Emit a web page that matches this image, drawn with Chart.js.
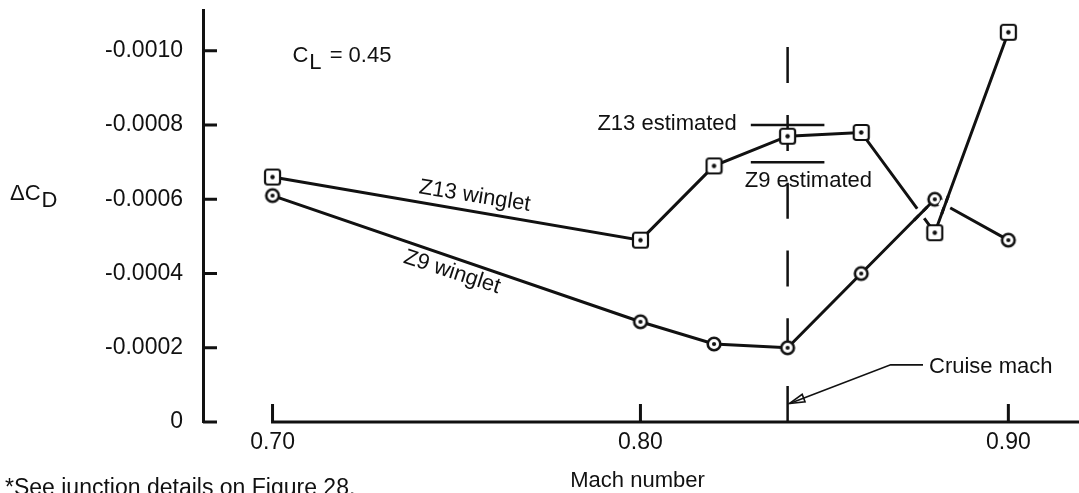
<!DOCTYPE html>
<html>
<head>
<meta charset="utf-8">
<title>Winglet drag increment</title>
<script src="https://cdn.jsdelivr.net/npm/chart.js@4.4.1/dist/chart.umd.min.js"></script>
<style>
    html, body { margin: 0; padding: 0; background: #fff; }
</style>
</head>
<body>
<canvas id="grafico" width="1079" height="493"></canvas>
<script>
// Drag increment for the two winglets at CL = 0.45
const machZ13 = [0.70, 0.80, 0.82, 0.84, 0.86, 0.88, 0.90];
const dcdZ13 = [-0.00066, -0.00049, -0.00069, -0.00077, -0.00078, -0.00051, -0.00105];
const machZ9 = [0.70, 0.80, 0.82, 0.84, 0.86, 0.88, 0.90];
const dcdZ9 = [-0.00061, -0.00027, -0.00021, -0.00020, -0.00040, -0.00060, -0.00049];

// Estimates at cruise
const cruiseMach = 0.84;
const cruiseLineTop = -0.00101;
const z13Estimated = -0.0008;
const z9Estimated = -0.0007;
const estimateSpan = [0.83, 0.85];

const xTicks = [0.70, 0.80, 0.90];
const yTicks = [0, -0.0002, -0.0004, -0.0006, -0.0008, -0.0010];

const INK = '#111';
const FONT = '"Liberation Sans", Arial, sans-serif';

// Marker images: square and circle with a dot in the middle
function squareMarker() {
    let c = document.createElement('canvas');
    c.width = 19; c.height = 19;
    let g = c.getContext('2d');
    g.fillStyle = '#fff';
    g.strokeStyle = INK;
    g.lineWidth = 2.2;
    g.beginPath();
    if (g.roundRect) g.roundRect(2, 2, 15, 15, 2.5); else g.rect(2, 2, 15, 15);
    g.fill();
    g.stroke();
    g.fillStyle = INK;
    g.beginPath();
    g.arc(9.5, 9.5, 2.2, 0, Math.PI * 2);
    g.fill();
    return c;
}

function circleMarker() {
    let c = document.createElement('canvas');
    c.width = 18; c.height = 18;
    let g = c.getContext('2d');
    g.fillStyle = '#fff';
    g.strokeStyle = INK;
    g.lineWidth = 2.6;
    g.beginPath();
    g.arc(9, 9, 6.3, 0, Math.PI * 2);
    g.fill();
    g.stroke();
    g.fillStyle = INK;
    g.beginPath();
    g.arc(9, 9, 2.1, 0, Math.PI * 2);
    g.fill();
    return c;
}

const toPoints = (xs, ys) => xs.map((x, i) => ({ x: x, y: ys[i] }));

// fixed axis sizes, no extra room for edge labels
function fixSize(prop, size) {
    return s => {
        s[prop] = size;
        s.paddingTop = s.paddingBottom = s.paddingLeft = s.paddingRight = 0;
    };
}

// Where two series cross, the lower line gets a small gap
function breakLine(ctx, a1, a2, b1, b2, gap) {
    const dax = a2.x - a1.x, day = a2.y - a1.y;
    const dbx = b2.x - b1.x, dby = b2.y - b1.y;
    const den = dax * dby - day * dbx;
    if (!den) return;
    const t = ((b1.x - a1.x) * dby - (b1.y - a1.y) * dbx) / den;
    const u = ((b1.x - a1.x) * day - (b1.y - a1.y) * dax) / den;
    if (t < 0 || t > 1 || u < 0 || u > 1) return;
    const cx = a1.x + t * dax, cy = a1.y + t * day;
    const la = Math.hypot(dax, day), lb = Math.hypot(dbx, dby);
    ctx.save();
    ctx.lineCap = 'butt';
    ctx.strokeStyle = '#fff';
    ctx.lineWidth = 6;
    ctx.beginPath();
    ctx.moveTo(cx - dax / la * gap, cy - day / la * gap);
    ctx.lineTo(cx + dax / la * gap, cy + day / la * gap);
    ctx.stroke();
    ctx.strokeStyle = INK;
    ctx.lineWidth = 3;
    ctx.beginPath();
    ctx.moveTo(cx - dbx / lb * gap * 1.6, cy - dby / lb * gap * 1.6);
    ctx.lineTo(cx + dbx / lb * gap * 1.6, cy + dby / lb * gap * 1.6);
    ctx.stroke();
    ctx.restore();
}

const crossings = {
    id: 'crossings',
    afterDatasetsDraw(chart) {
        const z13 = chart.getDatasetMeta(0).data;
        const z9 = chart.getDatasetMeta(1).data;
        // 0.86-0.88: Z9 passes over Z13
        breakLine(chart.ctx, z13[4], z13[5], z9[4], z9[5], 6);
        // 0.88-0.90: Z13 passes over Z9
        breakLine(chart.ctx, z9[5], z9[6], z13[5], z13[6], 6);
    }
};

// Axes with inward ticks, labels and the cruise arrow
const decorations = {
    id: 'decorations',
    afterDraw(chart) {
        const { ctx, scales: { x, y } } = chart;
        const px = v => x.getPixelForValue(v);
        const py = v => y.getPixelForValue(v);
        const y0 = py(0);

        ctx.save();
        ctx.strokeStyle = INK;
        ctx.fillStyle = INK;

        // x axis starts at the first tick
        ctx.lineWidth = 3;
        ctx.beginPath();
        ctx.moveTo(px(xTicks[0]) - 1.5, y0);
        ctx.lineTo(chart.width, y0);
        xTicks.forEach(v => {
            ctx.moveTo(px(v), y0);
            ctx.lineTo(px(v), y0 - 18);
        });
        yTicks.forEach(v => {
            ctx.moveTo(x.left, py(v));
            ctx.lineTo(x.left + 14, py(v));
        });
        ctx.stroke();

        ctx.font = '22px ' + FONT;
        ctx.textBaseline = 'alphabetic';

        // x axis title
        ctx.textAlign = 'center';
        ctx.fillText('Mach number', (x.left + x.right) / 2, 487);

        // y axis title with subscript
        ctx.textAlign = 'left';
        ctx.fillText('\u0394C', 10, 200);
        let w = ctx.measureText('\u0394C').width;
        ctx.fillText('D', 10 + w + 1, 207);

        // CL label
        let cx = px(0.7054), cy = py(-0.00097);
        ctx.fillText('C', cx, cy);
        w = ctx.measureText('C').width;
        ctx.fillText('L', cx + w + 1, cy + 7);
        w += ctx.measureText('L').width + 1;
        ctx.fillText(' = 0.45', cx + w + 2, cy);

        // estimate labels
        ctx.textAlign = 'right';
        ctx.fillText('Z13 estimated', px(estimateSpan[0]) - 14, py(z13Estimated) + 5);
        ctx.textAlign = 'left';
        ctx.fillText('Z9 estimated', px(estimateSpan[0]) - 6, py(z9Estimated) + 25);

        // series labels along the lines
        ctx.save();
        ctx.translate(px(0.7396), py(-0.000616));
        ctx.rotate(9 * Math.PI / 180);
        ctx.fillText('Z13 winglet', 0, 0);
        ctx.restore();

        ctx.save();
        ctx.translate(px(0.7353), py(-0.00043));
        ctx.rotate(18 * Math.PI / 180);
        ctx.fillText('Z9 winglet', 0, 0);
        ctx.restore();

        // cruise mach leader with open arrow head
        const tipX = px(cruiseMach) + 2, tipY = py(-0.00005);
        const elbX = px(0.868), elbY = py(-0.000154);
        const endX = px(0.8768);
        ctx.lineWidth = 1.6;
        ctx.beginPath();
        ctx.moveTo(endX, elbY);
        ctx.lineTo(elbX, elbY);
        ctx.lineTo(tipX, tipY);
        ctx.stroke();
        const ang = Math.atan2(elbY - tipY, elbX - tipX);
        const len = 15, half = 4;
        const bx = tipX + Math.cos(ang) * len, by = tipY + Math.sin(ang) * len;
        ctx.beginPath();
        ctx.moveTo(tipX, tipY);
        ctx.lineTo(bx - Math.sin(ang) * half, by + Math.cos(ang) * half);
        ctx.lineTo(bx + Math.sin(ang) * half, by - Math.cos(ang) * half);
        ctx.closePath();
        ctx.stroke();

        ctx.fillText('Cruise mach', endX + 6, elbY + 8);

        // footnote
        ctx.font = '23px ' + FONT;
        ctx.fillText('*See junction details on Figure 28.', 5, chart.height + 2);

        ctx.restore();
    }
};

let chart = new Chart(document.getElementById('grafico'), {
    type: 'line',
    data: {
        datasets: [
            {
                label: 'Z13 winglet',
                data: toPoints(machZ13, dcdZ13),
                borderColor: INK,
                borderWidth: 3,
                pointStyle: squareMarker(),
                order: 1
            },
            {
                label: 'Z9 winglet',
                data: toPoints(machZ9, dcdZ9),
                borderColor: INK,
                borderWidth: 3,
                pointStyle: circleMarker(),
                order: 0
            },
            {
                label: 'Z13 estimated',
                data: estimateSpan.map(m => ({ x: m, y: z13Estimated })),
                borderColor: INK,
                borderWidth: 2.5,
                pointRadius: 0,
                order: 2
            },
            {
                label: 'Z9 estimated',
                data: estimateSpan.map(m => ({ x: m, y: z9Estimated })),
                borderColor: INK,
                borderWidth: 2.5,
                pointRadius: 0,
                order: 2
            },
            {
                label: 'Cruise mach',
                data: [{ x: cruiseMach, y: cruiseLineTop }, { x: cruiseMach, y: 0 }],
                borderColor: INK,
                borderWidth: 2.5,
                borderDash: [36, 31.8],
                pointRadius: 0,
                order: 3
            }
        ]
    },
    options: {
        responsive: false,
        animation: false,
        devicePixelRatio: 1,
        layout: { padding: { top: 10, left: 0, right: 0, bottom: 0 } },
        plugins: {
            legend: { display: false },
            tooltip: { enabled: false }
        },
        scales: {
            x: {
                type: 'linear',
                min: 0.6811,
                max: 0.9173,
                grid: { display: false, drawTicks: false },
                border: { display: false },
                afterBuildTicks: s => { s.ticks = xTicks.map(v => ({ value: v })); },
                afterFit: fixSize('height', 71),
                ticks: {
                    padding: 7,
                    color: INK,
                    font: { family: FONT, size: 23 },
                    callback: v => v.toFixed(2)
                }
            },
            y: {
                type: 'linear',
                reverse: true,
                min: -0.00111,
                max: 0,
                grid: { display: false, drawTicks: false },
                border: { display: true, color: INK, width: 3 },
                afterBuildTicks: s => { s.ticks = yTicks.map(v => ({ value: v })); },
                afterFit: fixSize('width', 203),
                ticks: {
                    padding: 20,
                    color: INK,
                    font: { family: FONT, size: 23 },
                    callback: v => v === 0 ? '0' : v.toFixed(4)
                }
            }
        }
    },
    plugins: [crossings, decorations]
});
</script>
</body>
</html>
